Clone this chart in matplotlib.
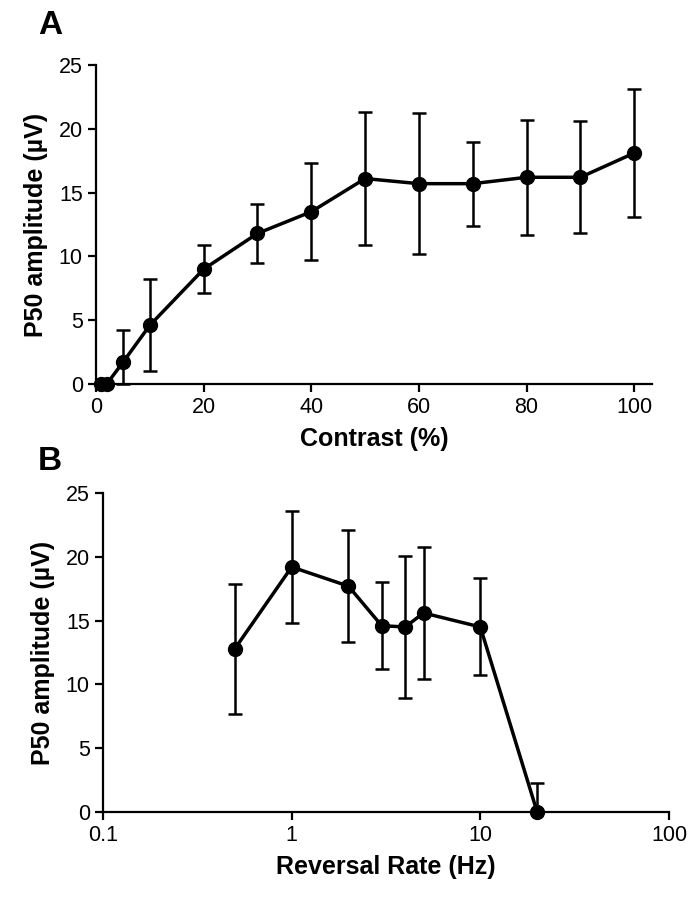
import matplotlib
matplotlib.use('Agg')
import matplotlib.pyplot as plt

plt.rcParams['font.family'] = ['Liberation Sans', 'DejaVu Sans']

# panel A: contrast response
contrast = [1, 2, 5, 10, 20, 30, 40, 50, 60, 70, 80, 90, 100]
amp_a = [0, 0, 1.7, 4.6, 9.0, 11.8, 13.5, 16.1, 15.7, 15.7, 16.2, 16.2, 18.1]
err_a = [0, 0, 2.5, 3.6, 1.9, 2.3, 3.8, 5.2, 5.5, 3.3, 4.5, 4.4, 5.0]

# panel B: reversal rate
rate = [0.5, 1, 2, 3, 4, 5, 10, 20]
amp_b = [12.8, 19.2, 17.7, 14.6, 14.5, 15.6, 14.5, 0]
err_b = [5.1, 4.4, 4.4, 3.4, 5.6, 5.2, 3.8, 2.3]

W, H = 690, 898
fig = plt.figure(figsize=(W / 100, H / 100), dpi=100)

def px_axes(left, right, top, bottom):
    return fig.add_axes([left / W, 1 - bottom / H, (right - left) / W, (bottom - top) / H])

def style(ax):
    for s in ['top', 'right']:
        ax.spines[s].set_visible(False)
    for s in ['left', 'bottom']:
        ax.spines[s].set_linewidth(1.6)
    ax.tick_params(direction='out', width=1.6, length=6, labelsize=15.5)
    ax.set_ylim(0, 25)
    ax.set_yticks([0, 5, 10, 15, 20, 25])
    ax.set_ylabel('P50 amplitude (µV)', fontsize=18, fontweight='bold', labelpad=8)

ax1 = px_axes(96, 652, 65, 384)
# lower errors clipped at zero
lo_a = [min(e, v) for e, v in zip(err_a, amp_a)]
ax1.errorbar(contrast, amp_a, yerr=[lo_a, err_a], color='black', lw=2.5, marker='o',
             ms=10, elinewidth=1.8, capsize=5, capthick=1.8, clip_on=False, zorder=3)
ax1.set_xlim(0, 103.3)
ax1.set_xticks([0, 20, 40, 60, 80, 100])
ax1.set_xlabel('Contrast (%)', fontsize=18, fontweight='bold', labelpad=6)
style(ax1)
fig.text(38 / W, 1 - 25 / H, 'A', fontsize=24, fontweight='bold', va='center', ha='left')

ax2 = px_axes(103, 669, 493, 812)
lo_b = [min(e, v) for e, v in zip(err_b, amp_b)]
ax2.errorbar(rate, amp_b, yerr=[lo_b, err_b], color='black', lw=2.5, marker='o',
             ms=10, elinewidth=1.8, capsize=5, capthick=1.8, clip_on=False, zorder=3)
ax2.set_xscale('log')
ax2.set_xlim(0.1, 100)
ax2.set_xticks([0.1, 1, 10, 100])
ax2.set_xticklabels(['0.1', '1', '10', '100'])
ax2.minorticks_off()
ax2.set_xlabel('Reversal Rate (Hz)', fontsize=18, fontweight='bold', labelpad=6)
style(ax2)
fig.text(38 / W, 1 - 461 / H, 'B', fontsize=24, fontweight='bold', va='center', ha='left')

fig.savefig('out.png', dpi=100)
